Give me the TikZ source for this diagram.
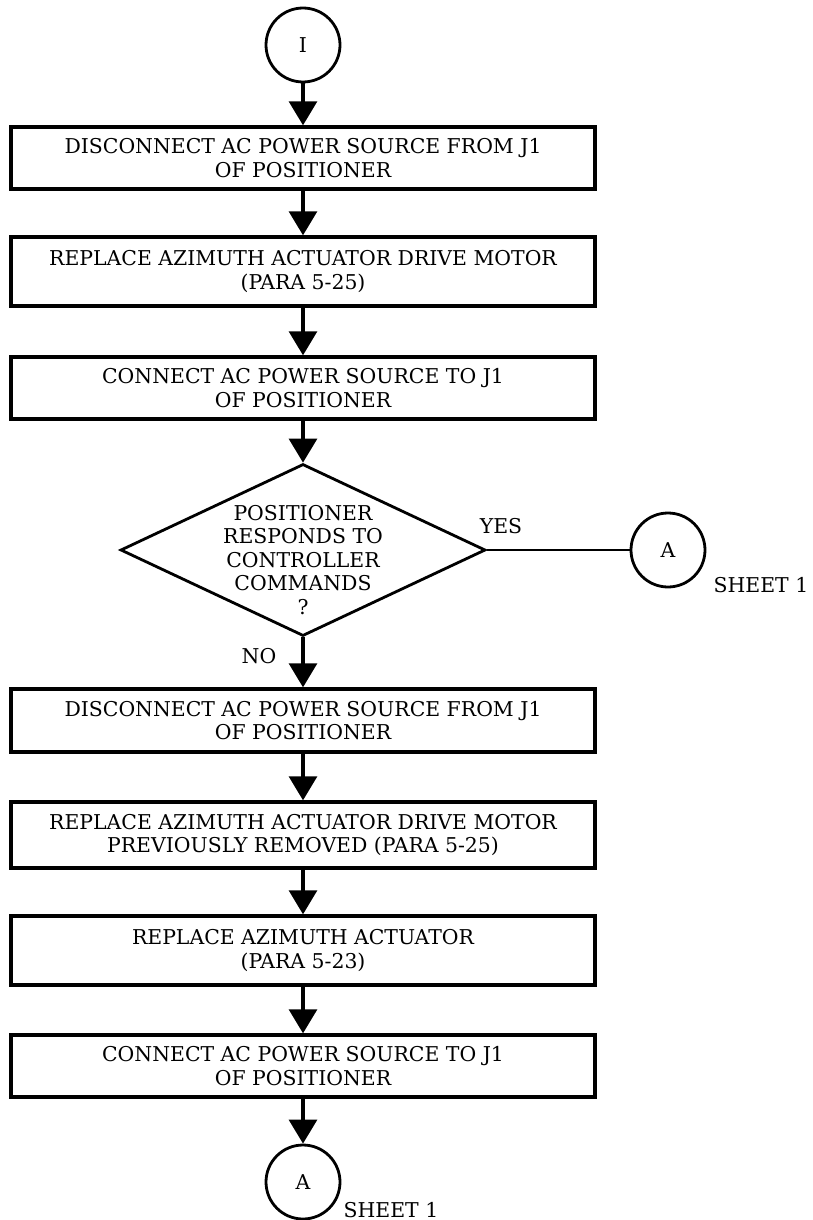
\documentclass[tikz,border=0pt]{standalone}
\usepackage{fontspec}
\setmainfont{DejaVu Serif}
\usetikzlibrary{arrows.meta,shapes.geometric}
\begin{document}
\begin{tikzpicture}[x=1pt,y=-1pt,
  every node/.style={font=\fontsize{20.4}{23.5}\selectfont, inner sep=0pt},
  stepbox/.style={draw, line width=3.4pt, minimum width=584pt, align=center},
  conn/.style={draw, circle, line width=2.8pt, minimum size=74pt},
  decide/.style={draw, diamond, line width=2.8pt, minimum width=365pt, minimum height=172pt},
  flow/.style={line width=3.2pt, -{Triangle[width=28pt,length=24pt]}},
  plain/.style={line width=2.6pt}
]
\useasboundingbox (0,0) rectangle (812,1220);

\node[conn] (ci) at (303,45) {I};
\node[stepbox, minimum height=62pt] (b1) at (303,158) {DISCONNECT AC POWER SOURCE FROM J1\\OF POSITIONER};
\node[stepbox, minimum height=69pt] (b2) at (303,271.5) {REPLACE AZIMUTH ACTUATOR DRIVE MOTOR\\(PARA 5-25)};
\node[stepbox, minimum height=62pt] (b3) at (303,388) {CONNECT AC POWER SOURCE TO J1\\OF POSITIONER};
\node[decide] (d) at (303,550) {};
\node[align=center] (dt) at (303,560) {POSITIONER\\RESPONDS TO\\CONTROLLER\\COMMANDS\\?};
\node[conn] (ca1) at (668,550) {A};
\node (s1) at (761,585) {SHEET 1};
\node (yes) at (501,526) {YES};
\node (no) at (259,656) {NO};
\node[stepbox, minimum height=63pt] (b4) at (303,720.5) {DISCONNECT AC POWER SOURCE FROM J1\\OF POSITIONER};
\node[stepbox, minimum height=66pt] (b5) at (303,835) {REPLACE AZIMUTH ACTUATOR DRIVE MOTOR\\PREVIOUSLY REMOVED (PARA 5-25)};
\node[stepbox, minimum height=69pt] (b6) at (303,950.5) {REPLACE AZIMUTH ACTUATOR\\(PARA 5-23)};
\node[stepbox, minimum height=62pt] (b7) at (303,1066) {CONNECT AC POWER SOURCE TO J1\\OF POSITIONER};
\node[conn] (ca2) at (303,1182) {A};
\node (s2) at (391,1210) {SHEET 1};

\draw[flow] (ci.south) -- (b1.north);
\draw[flow] (b1.south) -- (b2.north);
\draw[flow] (b2.south) -- (b3.north);
\draw[flow] (b3.south) -- (d.north);
\draw[plain] (d.east) -- (ca1.west);
\draw[flow] (d.south) -- (b4.north);
\draw[flow] (b4.south) -- (b5.north);
\draw[flow] (b5.south) -- (b6.north);
\draw[flow] (b6.south) -- (b7.north);
\draw[flow] (b7.south) -- (ca2.north);
\end{tikzpicture}
\end{document}
